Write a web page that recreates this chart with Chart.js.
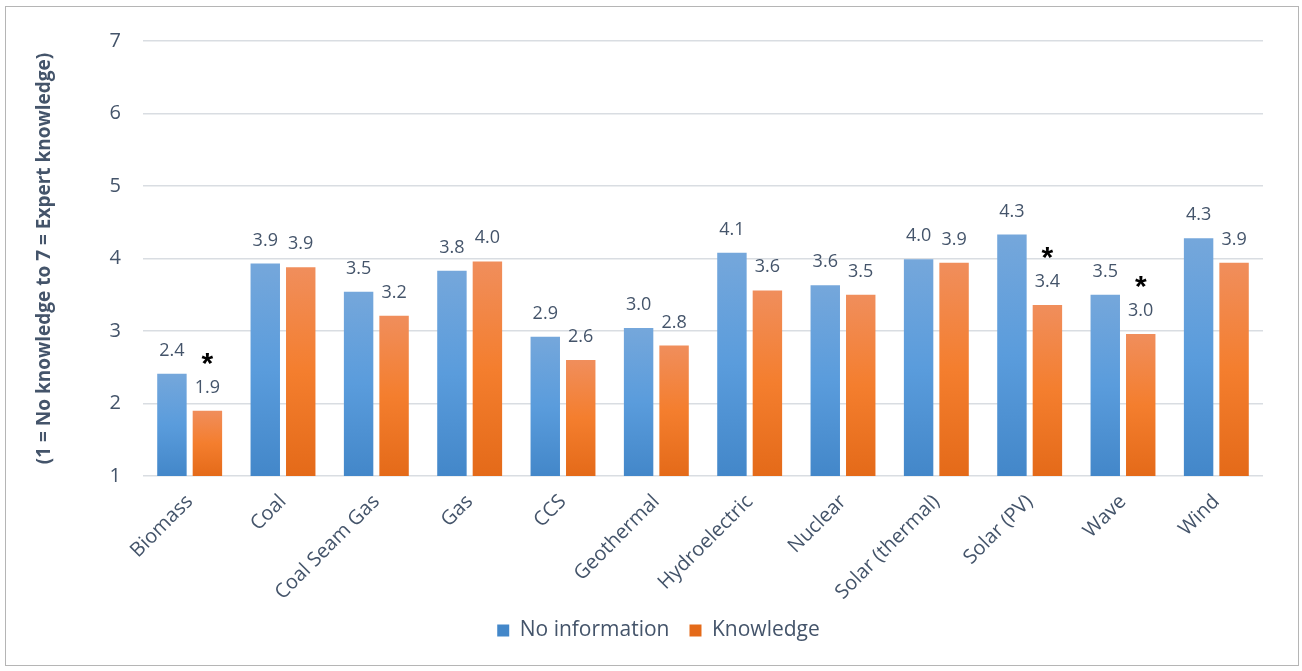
<!DOCTYPE html>
<html>
<head>
<meta charset="utf-8">
<title>Knowledge of energy sources</title>
<script src="https://cdn.jsdelivr.net/npm/chart.js@4.4.1/dist/chart.umd.min.js"></script>
<style>
  html, body { margin: 0; padding: 0; background: #ffffff; }
  #frame {
    position: absolute; left: 5px; top: 6px;
    width: 1292px; height: 658px;
    border: 1px solid #b5b5b5; background: #ffffff;
  }
  canvas { display: block; }
</style>
</head>
<body>
<div id="frame"><canvas id="chart" width="1292" height="658"></canvas></div>
<script>
// Energy sources on the category axis
const categories = [
  'Biomass', 'Coal', 'Coal Seam Gas', 'Gas', 'CCS', 'Geothermal',
  'Hydroelectric', 'Nuclear', 'Solar (thermal)', 'Solar (PV)', 'Wave', 'Wind'
];

// Mean self-rated knowledge, 1 (none) to 7 (expert)
const noInformation = [2.41, 3.93, 3.54, 3.83, 2.92, 3.04, 4.08, 3.63, 3.99, 4.33, 3.50, 4.28];
const knowledge     = [1.90, 3.88, 3.21, 3.96, 2.60, 2.80, 3.56, 3.50, 3.94, 3.36, 2.96, 3.94];

// Sources where the two groups differ significantly (flagged with *)
const significant = ['Biomass', 'Solar (PV)', 'Wave'];

// Value axis ticks
const yTicks = [1, 2, 3, 4, 5, 6, 7];

const TEXT = '#44546a';
const FONT = '"Open Sans", "DejaVu Sans", sans-serif';

// Vertical gradient per bar, from the bar top down to the axis base
function barFill(stops, solid) {
  return (ctx) => {
    if (ctx.type !== 'data') return solid;
    const chart = ctx.chart;
    const y = chart.scales && chart.scales.y;
    if (!y || !chart.chartArea) return solid;
    const top = y.getPixelForValue(ctx.raw);
    const base = y.getPixelForValue(y.min);
    if (!isFinite(top) || !isFinite(base) || base - top < 1) return solid;
    const g = chart.ctx.createLinearGradient(0, top, 0, base);
    stops.forEach(([o, c]) => g.addColorStop(o, c));
    return g;
  };
}

const blueStops = [[0, '#75a7db'], [0.5, '#5a9cdc'], [1, '#4387c9']];
const orangeStops = [[0, '#f08e5c'], [0.5, '#f47e2e'], [1, '#e46a19']];

// Value labels above each bar, plus significance asterisks
const valueLabels = {
  id: 'valueLabels',
  afterDatasetsDraw(chart) {
    const c = chart.ctx;
    c.save();
    c.font = '18px ' + FONT;
    c.fillStyle = TEXT;
    c.textAlign = 'center';
    c.textBaseline = 'alphabetic';
    chart.data.datasets.forEach((ds, i) => {
      const meta = chart.getDatasetMeta(i);
      meta.data.forEach((bar, j) => {
        c.fillText(ds.data[j].toFixed(1), bar.x, bar.y - 18);
      });
    });
    const kMeta = chart.getDatasetMeta(1);
    c.font = 'bold 30px "Liberation Sans", Arial, sans-serif';
    c.fillStyle = '#000000';
    categories.forEach((name, j) => {
      if (!significant.includes(name)) return;
      const bar = kMeta.data[j];
      c.fillText('*', bar.x, bar.y - 38);
    });
    c.restore();
  }
};

// Centre the legend under the whole frame rather than the padded area
const legendShift = {
  id: 'legendShift',
  afterLayout(chart) {
    if (!chart.legend) return;
    chart.legend.left += 14;
    chart.legend.right += 14;
  }
};

new Chart(document.getElementById('chart'), {
  type: 'bar',
  data: {
    labels: categories,
    datasets: [
      {
        label: 'No information',
        data: noInformation,
        backgroundColor: barFill(blueStops, '#5a9cdc'),
        borderWidth: 0,
        categoryPercentage: 0.76,
        barPercentage: 0.83
      },
      {
        label: 'Knowledge',
        data: knowledge,
        backgroundColor: barFill(orangeStops, '#f47e2e'),
        borderWidth: 0,
        categoryPercentage: 0.76,
        barPercentage: 0.83
      }
    ]
  },
  options: {
    responsive: false,
    animation: false,
    layout: { padding: { left: 20, right: 35, top: 34, bottom: 14 } },
    plugins: {
      legend: {
        position: 'bottom',
        labels: {
          color: TEXT,
          font: { family: FONT, size: 21 },
          boxWidth: 12,
          boxHeight: 12,
          padding: 20
        }
      },
      tooltip: { enabled: false }
    },
    scales: {
      x: {
        grid: { display: false },
        border: { display: false },
        ticks: {
          color: TEXT,
          font: { family: FONT, size: 20 },
          maxRotation: 45,
          minRotation: 45,
          padding: 6
        },
        afterFit(scale) { scale.height = 124; }
      },
      y: {
        min: 1,
        max: 7,
        afterBuildTicks(scale) { scale.ticks = yTicks.map(v => ({ value: v })); },
        grid: { color: '#d9dde2', lineWidth: 1.5, drawTicks: false },
        border: { display: false },
        ticks: {
          color: TEXT,
          font: { family: FONT, size: 20 },
          padding: 22
        },
        title: {
          display: true,
          text: '(1 = No knowledge to 7 = Expert knowledge)',
          color: TEXT,
          font: { family: FONT, size: 19, weight: 'bold' },
          padding: { top: 7, bottom: 0 }
        },
        afterFit(scale) { scale.width = 117; }
      }
    }
  },
  plugins: [valueLabels, legendShift]
});
</script>
</body>
</html>
